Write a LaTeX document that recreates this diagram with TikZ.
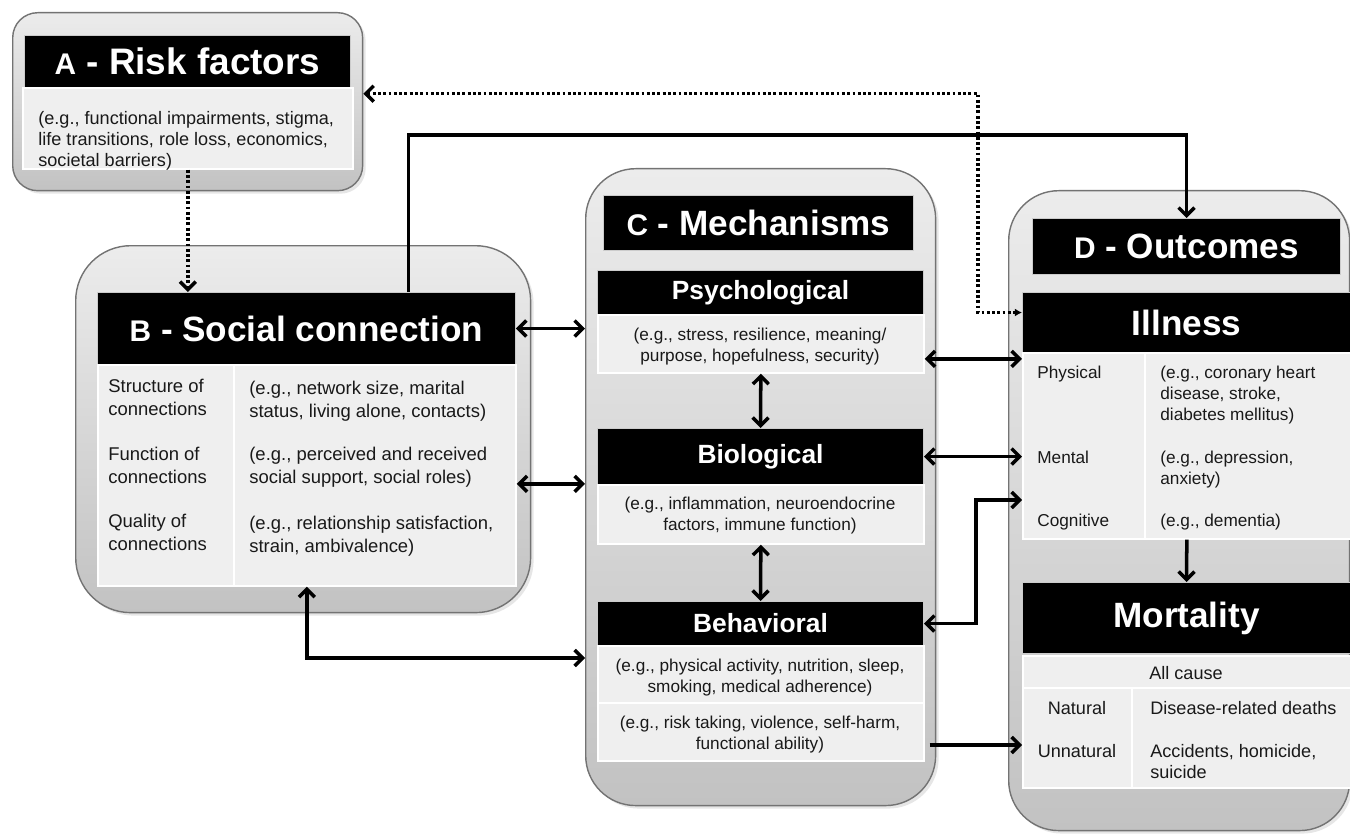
\documentclass[tikz,border=0pt]{standalone}
\usepackage{fontspec}
\setmainfont{Liberation Sans}
\usetikzlibrary{arrows.meta,shadows}

\definecolor{cellfill}{RGB}{239,239,239}
\definecolor{paneltop}{RGB}{236,236,236}
\definecolor{panelbot}{RGB}{194,194,194}
\definecolor{txtgray}{RGB}{25,25,25}

\tikzset{
	panel/.style = {anchor = north west , inner sep = 0 , draw = black!55 , line width = 0.8pt ,
		top color = paneltop , bottom color = panelbot ,
		drop shadow = {opacity = 0.2 , shadow xshift = 0.6mm , shadow yshift = -0.6mm}} ,
	head/.style = {anchor = north west , inner sep = 0 , fill = black , draw = white!80!black ,
		line width = 0.6pt , text = white , font = \bfseries} ,
	cell/.style = {anchor = north west , inner sep = 0 , fill = cellfill , draw = white , line width = 1pt} ,
	txt/.style = {inner sep = 0 , text = txtgray , align = left , font = \fontsize{9.8}{11.8}\selectfont} ,
	link/.style = {line width = 2pt} ,
	dotlink/.style = {line width = 2pt , dash pattern = on 1.6pt off 1.4pt}
}

\begin{document}
\begin{tikzpicture}[x = 0.02cm , y = -0.02cm , > = {Straight Barb[length = 4.5pt , width = 9pt]}]
	\useasboundingbox (0,0) rectangle (1350,838);

	% A
	\node[panel , rounded corners = 0.5cm , minimum width = 7cm , minimum height = 3.56cm] (abox) at (12,12) {};
	\node[head , minimum width = 6.52cm , minimum height = 1.04cm] (ahead) at (24,35)
		{\fontsize{21}{24}\selectfont{\fontsize{17}{18}\selectfont A} - Risk factors};
	\node[cell , minimum width = 6.6cm , minimum height = 1.62cm] (abody) at (22,87) {};
	\node[txt , anchor = north west , font = \fontsize{10.3}{12}\selectfont] (atext) at (38,111)
		{(e.g., functional impairments, stigma,\\life transitions, role loss, economics,\\societal barriers)};

	% B
	\node[panel , rounded corners = 1.1cm , minimum width = 9.1cm , minimum height = 7.34cm] (bbox) at (75,245) {};
	\node[head , minimum width = 8.36cm , minimum height = 1.44cm] (bhead) at (97,292)
		{\fontsize{20}{24}\selectfont{\fontsize{17}{18}\selectfont B} - Social connection};
	\node[cell , minimum width = 8.36cm , minimum height = 4.42cm] (btab) at (97,364) {};
	\draw[white , line width = 1pt] (btab.north west) ++(137,0) -- ++(0,221);
	\node[txt , anchor = north west , font = \fontsize{10.5}{13}\selectfont] (bstruct) at (108,379) {Structure of\\connections};
	\node[txt , anchor = north west , font = \fontsize{10.5}{13}\selectfont] (bfunc) at (108,447) {Function of\\connections};
	\node[txt , anchor = north west , font = \fontsize{10.5}{13}\selectfont] (bqual) at (108,514) {Quality of\\connections};
	\node[txt , anchor = north west , font = \fontsize{10.5}{13}\selectfont] (bstructx) at (249,381)
		{(e.g., network size, marital\\status, living alone, contacts)};
	\node[txt , anchor = north west , font = \fontsize{10.5}{13}\selectfont] (bfuncx) at (249,447)
		{(e.g., perceived and received\\social support, social roles)};
	\node[txt , anchor = north west , font = \fontsize{10.5}{13}\selectfont] (bqualx) at (249,516)
		{(e.g., relationship satisfaction,\\strain, ambivalence)};

	% C
	\node[panel , rounded corners = 1cm , minimum width = 7cm , minimum height = 12.74cm] (cbox) at (585,168) {};
	\node[head , minimum width = 6.2cm , minimum height = 1.1cm] (chead) at (603,195)
		{\fontsize{20}{24}\selectfont{\fontsize{17}{18}\selectfont C} - Mechanisms};
	\node[head , minimum width = 6.52cm , minimum height = 0.88cm , font = \bfseries\fontsize{15}{18}\selectfont] (psyh) at (597,270) {Psychological};
	\node[cell , minimum width = 6.52cm , minimum height = 1.16cm] (psyt) at (597,314) {};
	\node[head , minimum width = 6.52cm , minimum height = 1.12cm , font = \bfseries\fontsize{15}{18}\selectfont] (bioh) at (597,428) {Biological};
	\node[cell , minimum width = 6.52cm , minimum height = 1.18cm] (biot) at (597,484) {};
	\node[head , minimum width = 6.52cm , minimum height = 0.88cm , font = \bfseries\fontsize{15}{18}\selectfont] (behh) at (597,601) {Behavioral};
	\node[cell , minimum width = 6.52cm , minimum height = 1.14cm] (beha) at (597,645) {};
	\node[cell , minimum width = 6.52cm , minimum height = 1.16cm] (behb) at (597,702) {};
	\node[txt , align = center , anchor = north] (psytx) at (760,328)
		{(e.g., stress, resilience, meaning/\\purpose, hopefulness, security)};
	\node[txt , align = center , anchor = north] (biotx) at (760,497)
		{(e.g., inflammation, neuroendocrine\\factors, immune function)};
	\node[txt , align = center , anchor = north] (behax) at (760,659)
		{(e.g., physical activity, nutrition, sleep,\\smoking, medical adherence)};
	\node[txt , align = center , anchor = north] (behbx) at (760,716)
		{(e.g., risk taking, violence, self-harm,\\functional ability)};

	% D
	\node[panel , rounded corners = 1cm , minimum width = 6.82cm , minimum height = 12.8cm] (dbox) at (1008,190) {};
	\node[head , minimum width = 6.16cm , minimum height = 1.12cm] (dhead) at (1032,218)
		{\fontsize{20}{24}\selectfont{\fontsize{17}{18}\selectfont D} - Outcomes};
	\node[head , minimum width = 6.56cm , minimum height = 1.2cm , font = \bfseries\fontsize{20}{24}\selectfont] (ill) at (1022,292) {Illness};
	\node[cell , minimum width = 6.56cm , minimum height = 3.72cm] (itab) at (1022,352) {};
	\draw[white , line width = 1pt] (itab.north west) ++(123,0) -- ++(0,186);
	\node[txt , anchor = north west] (iphys) at (1037,366) {Physical};
	\node[txt , anchor = north west] (iment) at (1037,451) {Mental};
	\node[txt , anchor = north west] (icogn) at (1037,514) {Cognitive};
	\node[txt , anchor = north west] (iphysx) at (1160,366) {(e.g., coronary heart\\disease, stroke,\\diabetes mellitus)};
	\node[txt , anchor = north west] (imentx) at (1160,451) {(e.g., depression,\\anxiety)};
	\node[txt , anchor = north west] (icognx) at (1160,514) {(e.g., dementia)};
	\node[head , minimum width = 6.56cm , minimum height = 1.42cm , font = \bfseries\fontsize{20}{24}\selectfont] (mort) at (1022,582) {Mortality};
	\node[cell , minimum width = 6.56cm , minimum height = 0.64cm] (mall) at (1022,655) {};
	\node[cell , minimum width = 6.56cm , minimum height = 2cm] (mtab) at (1022,687) {};
	\draw[white , line width = 1pt] (mtab.north west) ++(110,0) -- ++(0,100);
	\node[txt , anchor = north , font = \fontsize{10.3}{12}\selectfont] (mallx) at (1186,666) {All cause};
	\node[txt , anchor = north , font = \fontsize{10.3}{12}\selectfont] (mnat) at (1077,701) {Natural};
	\node[txt , anchor = north , font = \fontsize{10.3}{12}\selectfont] (munnat) at (1077,744) {Unnatural};
	\node[txt , anchor = north west , font = \fontsize{10.3}{12}\selectfont] (mnatx) at (1150,701) {Disease-related deaths};
	\node[txt , anchor = north west , font = \fontsize{10.3}{12}\selectfont] (munnatx) at (1150,744) {Accidents, homicide,\\suicide};

	% links
	\coordinate (dotturn) at (978,200);
	\coordinate (bfun) at ([yshift = -0.17cm]btab.east);
	\coordinate (cpsy) at ([yshift = -0.3cm]psyt.east);
	\draw[dotlink , ->] (abody.south) -- (abody.south |- bhead.north);
	\draw[dotlink , {Straight Barb[length = 4.5pt , width = 9pt]}-{Latex[length = 4pt , width = 4.5pt]}]
		([yshift = 0.16cm]abox.east) -| (dotturn) |- ([yshift = 0.2cm]ill.west);
	\draw[link , ->] ([xshift = 2.04cm]bhead.north) -- ++(0,-157) -| (dhead.north);
	\draw[link , <->] (bhead.east) -- (cbox.west |- bhead.east);
	\draw[link , <->] (bfun) -- (cbox.west |- bfun);
	\draw[link , <->] (btab.south) |- (cbox.west |- 0,658);
	\draw[link , <->] (psyt.south) -- (bioh.north);
	\draw[link , <->] (biot.south) -- (behh.north);
	\draw[link , <->] (cpsy) -- (itab.west |- cpsy);
	\draw[link , <->] (bioh.east) -- (itab.west |- bioh.east);
	\draw[link , <->] (behh.east) -- ++(52,0) |- (itab.west |- 0,500);
	\draw[link , ->] ([xshift = 0.1cm]behb.east |- 0,745) -- (mtab.west |- 0,745);
	\draw[link , ->] (itab.south) -- (mort.north);
\end{tikzpicture}
\end{document}
